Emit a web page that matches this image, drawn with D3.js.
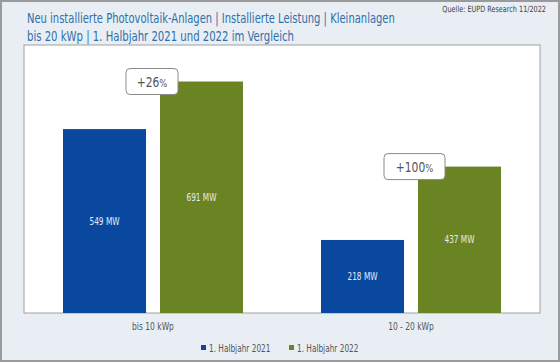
<!DOCTYPE html>
<html>
<head>
<meta charset="utf-8">
<script src="https://cdn.jsdelivr.net/npm/d3@7"></script>
<style>
  body { margin: 0; background: #fff; }
  svg { display: block; }
  text { font-family: "DejaVu Sans Condensed", "DejaVu Sans", sans-serif; }
</style>
</head>
<body>
<svg width="560" height="362"></svg>
<script>
const categories = ["bis 10 kWp", "10 - 20 kWp"];
const seriesNames = ["1. Halbjahr 2021", "1. Halbjahr 2022"];
const values2021 = [549, 218];
const values2022 = [691, 437];
const changes = ["+26", "+100"];
const titleLines = [
    "Neu installierte Photovoltaik-Anlagen | Installierte Leistung | Kleinanlagen",
    "bis 20 kWp | 1. Halbjahr 2021 und 2022 im Vergleich"
];
const source = "Quelle: EUPD Research 11/2022";

const colors = ["#0a489f", "#6a8424"];

const svg = d3.select("svg");
const width = +svg.attr("width");
const height = +svg.attr("height");

// the original uses a condensed face: narrow the text around its anchor
const squeeze = (sel, k) => sel.each(function() {
    const x = +this.getAttribute("x") || 0;
    d3.select(this)
        .attr("transform", `translate(${x},0) scale(${k},1) translate(${-x},0)`);
});

// background + frame
svg.append("rect")
    .attr("x", 1).attr("y", 1)
    .attr("width", width - 2).attr("height", height - 2)
    .attr("fill", "#e9eef4")
    .attr("stroke", "#9a9a9a")
    .attr("stroke-width", 2);

const plot = { left: 24, right: 540, top: 45, bottom: 313 };

svg.append("rect")
    .attr("x", plot.left).attr("y", plot.top)
    .attr("width", plot.right - plot.left).attr("height", plot.bottom - plot.top)
    .attr("fill", "#fff")
    .attr("stroke", "#a0a0a0")
    .attr("stroke-width", 1);

const x0 = d3.scaleBand()
    .domain(categories)
    .range([plot.left, plot.right]);

const x1 = d3.scaleBand()
    .domain(seriesNames)
    .range([39, x0.bandwidth() - 39])
    .paddingInner(0.144);

const y = d3.scaleLinear()
    .domain([0, 800])
    .range([plot.bottom, plot.top]);

const rows = categories.map((c, i) => ({
    cat: c,
    change: changes[i],
    bars: [
        { s: seriesNames[0], v: values2021[i], c: colors[0] },
        { s: seriesNames[1], v: values2022[i], c: colors[1] }
    ]
}));

const groups = svg.append("g")
    .selectAll("g")
    .data(rows)
    .enter().append("g")
    .attr("transform", d => `translate(${x0(d.cat)},0)`);

groups.selectAll("rect")
    .data(d => d.bars)
    .enter().append("rect")
    .attr("x", d => x1(d.s))
    .attr("y", d => y(d.v))
    .attr("width", x1.bandwidth())
    .attr("height", d => y(0) - y(d.v))
    .attr("fill", d => d.c);

groups.selectAll("text.val")
    .data(d => d.bars)
    .enter().append("text")
    .attr("class", "val")
    .attr("x", d => x1(d.s) + x1.bandwidth() / 2)
    .attr("y", d => (y(d.v) + y(0)) / 2)
    .attr("dy", "0.35em")
    .attr("text-anchor", "middle")
    .attr("fill", "#e4ebf3")
    .attr("font-size", 10)
    .text(d => d.v + " MW")
    .call(squeeze, 0.82);

// change callouts
groups.each(function(d) {
    const g = d3.select(this);
    const cx = x0.bandwidth() / 2;
    const top = y(d.bars[1].v);
    const w = d.change.length > 3 ? 61 : 52;
    const h = 26;
    const by = top - 13;
    g.append("rect")
        .attr("x", cx - 27)
        .attr("y", by)
        .attr("width", w).attr("height", h)
        .attr("rx", 4)
        .attr("fill", "#fff")
        .attr("stroke", "#8a8a8a")
        .attr("stroke-width", 1);
    const t = g.append("text")
        .attr("x", cx - 27 + w / 2)
        .attr("y", by + h / 2)
        .attr("dy", "0.35em")
        .attr("text-anchor", "middle")
        .attr("fill", "#555");
    t.append("tspan").attr("font-size", 14).text(d.change);
    t.append("tspan").attr("font-size", 11).text("%");
    t.call(squeeze, 0.85);
});

// category labels
svg.append("g")
    .selectAll("text")
    .data(categories)
    .enter().append("text")
    .attr("x", d => x0(d) + x0.bandwidth() / 2)
    .attr("y", 327)
    .attr("dy", "0.35em")
    .attr("text-anchor", "middle")
    .attr("fill", "#555")
    .attr("font-size", 10)
    .text(d => d)
    .call(squeeze, 0.84);

// legend
const legendX = [201, 289];
const legend = svg.append("g")
    .selectAll("g")
    .data(seriesNames)
    .enter().append("g")
    .attr("transform", (d, i) => `translate(${legendX[i]},348)`);
legend.append("rect")
    .attr("x", 0).attr("y", -3)
    .attr("width", 5).attr("height", 5)
    .attr("fill", (d, i) => colors[i]);
legend.append("text")
    .attr("x", 8)
    .attr("dy", "0.35em")
    .attr("fill", "#555")
    .attr("font-size", 10)
    .text(d => d)
    .call(squeeze, 0.82);

// title, squeezed to the widths measured on the original
const titleWidths = [368, 267];
svg.append("g")
    .selectAll("text")
    .data(titleLines)
    .enter().append("text")
    .attr("x", 27)
    .attr("y", (d, i) => 18 + i * 18)
    .attr("dy", "0.35em")
    .attr("fill", "#2f6ea8")
    .attr("font-size", 14)
    .text(d => d)
    .each(function(d, i) {
        const k = titleWidths[i] / this.getComputedTextLength();
        d3.select(this).call(squeeze, k);
    });

svg.append("text")
    .attr("x", 546)
    .attr("y", 9)
    .attr("dy", "0.35em")
    .attr("text-anchor", "end")
    .attr("fill", "#444")
    .attr("font-size", 8.5)
    .text(source)
    .call(squeeze, 0.85);
</script>
</body>
</html>
